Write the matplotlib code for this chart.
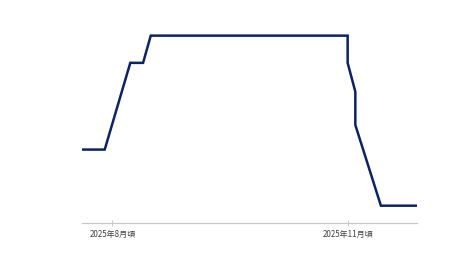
import matplotlib
matplotlib.use('Agg')
import matplotlib.pyplot as plt
import pandas as pd

plt.rcParams['font.family'] = ['Noto Sans CJK JP', 'DejaVu Sans']

# (no y axis shown, so relative level 0-100)
dates = ['2025-07-20', '2025-07-29', '2025-08-08', '2025-08-13', '2025-08-16',
         '2025-11-01', '2025-11-01', '2025-11-04', '2025-11-04', '2025-11-14', '2025-11-28']
levels = [33, 33, 84, 84, 100, 100, 84, 67, 47.5, 0, 0]
tick_dates = ['2025-08-01', '2025-11-01']
tick_labels = ['2025年8月頃', '2025年11月頃']

x = pd.to_datetime(dates)

fig = plt.figure(figsize=(4.73, 2.64), dpi=100)
ax = fig.add_axes([81.7/473, 1-223.3/264, (416.7-81.7)/473, (223.3-20)/264])
ax.plot(x, levels, color='#0b2265', lw=1.8, solid_joinstyle='miter')

ax.set_xlim(x[0], x[-1])
ax.set_ylim(-10.35, 109.2)
ax.set_xticks(pd.to_datetime(tick_dates))
ax.set_xticklabels(tick_labels, fontsize=5.8, color='#404040')
ax.tick_params(axis='x', length=4, width=0.6, color='#c0c0c0', pad=3, direction='inout')
ax.set_yticks([])
for s in ['top', 'right', 'left']:
    ax.spines[s].set_visible(False)
ax.spines['bottom'].set_color('#c8c8c8')
ax.spines['bottom'].set_linewidth(0.9)

fig.savefig('out.png', dpi=100)
